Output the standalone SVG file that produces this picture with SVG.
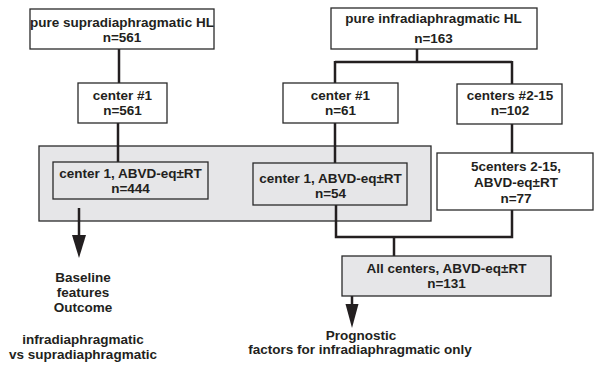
<svg xmlns="http://www.w3.org/2000/svg" width="595" height="365" viewBox="0 0 595 365">
<style>
.box{fill:#fff;stroke:#2a2a2a;stroke-width:1.3}
.gray{fill:#e6e6e8;stroke:#2a2a2a;stroke-width:1.3}
.t{font-family:"Liberation Sans",Arial,sans-serif;font-weight:bold;font-size:13.5px;fill:#231f20;text-anchor:middle}
.c{fill:none;stroke:#231f20;stroke-width:2.5}
.ah{fill:#231f20}
</style>
<rect width="595" height="365" fill="#fff"/>
<g id="group-center1">
<rect class="gray" x="39" y="146" width="392" height="75"/>
</g>
<g id="connectors">
<path class="c" d="M119,49 V83"/>
<path class="c" d="M118,123 V162"/>
<path class="c" d="M417,49 V62 M335,62 H512 M335,61 V83 M512,61 V84"/>
<path class="c" d="M335,123 V163"/>
<path class="c" d="M512,124 V153"/>
<path class="c" d="M336,205 V237 H512 V210"/>
<path class="c" d="M394,237 V256"/>
<path class="c" d="M79,208 V237"/>
<polygon class="ah" points="72,235 86,235 79,258"/>
<path class="c" d="M352,278 V306"/>
<polygon class="ah" points="345.5,304 358.5,304 352,328"/>
</g>
<g id="supra">
<rect class="box" x="30" y="9" width="184" height="40"/>
<text class="t" x="122" y="27">pure supradiaphragmatic HL</text>
<text class="t" x="122" y="42">n=561</text>
</g>
<g id="center1-left">
<rect class="box" x="78" y="83" width="89" height="40"/>
<text class="t" x="122.5" y="100">center #1</text>
<text class="t" x="122.5" y="115">n=561</text>
</g>
<g id="infra">
<rect class="box" x="331" y="8" width="206" height="41"/>
<text class="t" x="433.5" y="23">pure infradiaphragmatic HL</text>
<text class="t" x="433.5" y="43">n=163</text>
</g>
<g id="center1-right">
<rect class="box" x="283" y="83" width="115" height="40"/>
<text class="t" x="340.5" y="100">center #1</text>
<text class="t" x="340.5" y="115">n=61</text>
</g>
<g id="centers2-15">
<rect class="box" x="457" y="84" width="105" height="40"/>
<text class="t" x="510" y="100">centers #2-15</text>
<text class="t" x="510" y="115">n=102</text>
</g>
<g id="inner1">
<rect class="box" x="53" y="162" width="155" height="37" fill="none" style="fill:none"/>
<text class="t" x="130.5" y="178">center 1, ABVD-eq±RT</text>
<text class="t" x="130.5" y="193">n=444</text>
</g>
<g id="inner2">
<rect class="box" x="253" y="163" width="154" height="42" style="fill:none"/>
<text class="t" x="330.5" y="183">center 1, ABVD-eq±RT</text>
<text class="t" x="330.5" y="198">n=54</text>
</g>
<g id="fivecenters">
<rect class="box" x="437" y="153" width="156" height="57"/>
<text class="t" x="516" y="171">5centers 2-15,</text>
<text class="t" x="516" y="187">ABVD-eq±RT</text>
<text class="t" x="516" y="203">n=77</text>
</g>
<g id="allcenters">
<rect class="gray" x="342" y="256" width="209" height="40"/>
<text class="t" x="446.5" y="273">All centers, ABVD-eq±RT</text>
<text class="t" x="446.5" y="288">n=131</text>
</g>
<g id="label-baseline">
<text class="t" x="83" y="282">Baseline</text>
<text class="t" x="83" y="297">features</text>
<text class="t" x="83" y="312">Outcome</text>
<text class="t" x="83" y="344">infradiaphragmatic</text>
<text class="t" x="83" y="359">vs supradiaphragmatic</text>
</g>
<g id="label-prognostic">
<text class="t" x="361" y="340">Prognostic</text>
<text class="t" x="360" y="354">factors for infradiaphragmatic only</text>
</g>
</svg>
